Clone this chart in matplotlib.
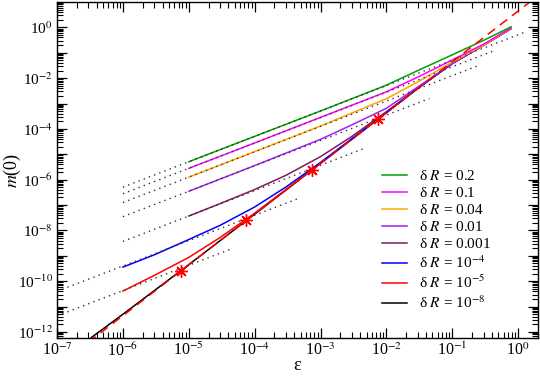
import numpy as np
import matplotlib
matplotlib.use('Agg')
import matplotlib.pyplot as plt
from matplotlib.ticker import NullFormatter, LogLocator

plt.rcParams['font.family'] = ['Liberation Serif', 'DejaVu Serif']
plt.rcParams['mathtext.fontset'] = 'stix'

#======= data =======
labels = ['δ $R$ = 0.2', 'δ $R$ = 0.1', 'δ $R$ = 0.04', 'δ $R$ = 0.01',
          'δ $R$ = 0.001', 'δ $R$ = 10$^{-4}$', 'δ $R$ = 10$^{-5}$', 'δ $R$ = 10$^{-8}$']
colors = ['#00a000', '#ff00ff', '#ffa500', '#a020f0', '#7f1a5a', '#0000ff', '#ff0000', '#000000']

eps_green = [1e-5, 1e-4, 1e-3, 1e-2, 3e-2, 1e-1, 3e-1, 0.78]
m_green = [5.1e-6, 5.1e-5, 5.1e-4, 5.3e-3, 2.0e-2, 8.3e-2, 0.31, 1.05]

eps_magenta = [1e-5, 1e-4, 1e-3, 1e-2, 3e-2, 1e-1, 3e-1, 0.78]
m_magenta = [2.8e-6, 2.8e-5, 2.85e-4, 2.9e-3, 1.1e-2, 5.2e-2, 0.22, 0.95]

eps_orange = [1e-5, 1e-4, 1e-3, 1e-2, 3e-2, 1e-1, 3e-1, 0.78]
m_orange = [1.26e-6, 1.27e-5, 1.3e-4, 1.55e-3, 7.1e-3, 4.3e-2, 0.2, 0.92]

eps_purple = [1e-5, 1e-4, 1e-3, 3e-3, 1e-2, 3e-2, 1e-1, 3e-1, 0.78]
m_purple = [3.5e-7, 3.6e-6, 3.9e-5, 1.45e-4, 6.5e-4, 4.5e-3, 3.8e-2, 0.2, 0.9]

eps_maroon = [1e-5, 3e-5, 1e-4, 3e-4, 1e-3, 3e-3, 1e-2, 3e-2, 1e-1, 3e-1, 0.78]
m_maroon = [3.7e-8, 1.15e-7, 4.1e-7, 1.5e-6, 8.1e-6, 5.1e-5, 4.8e-4, 4.0e-3, 3.8e-2, 0.2, 0.9]

eps_blue = [1e-6, 3e-6, 1e-5, 3e-5, 1e-4, 3e-4, 1e-3, 1e-2, 3e-2, 1e-1, 3e-1, 0.78]
m_blue = [3.6e-10, 1.1e-9, 4.4e-9, 1.6e-8, 8.4e-8, 5.2e-7, 4.8e-6, 4.4e-4, 4.0e-3, 3.8e-2, 0.2, 0.9]

eps_red = [1e-6, 3e-6, 1e-5, 3e-5, 1e-4, 1e-3, 1e-2, 3e-2, 1e-1, 3e-1, 0.78]
m_red = [4.1e-11, 1.7e-10, 8.7e-10, 5.3e-9, 4.8e-8, 4.4e-6, 4.4e-4, 4.0e-3, 3.8e-2, 0.2, 0.9]

eps_black = [3.3e-7, 1e-6, 1e-5, 1e-4, 1e-3, 1e-2, 3e-2, 1e-1, 3e-1, 0.78]
m_black = [6e-13, 5e-12, 4.5e-10, 4.4e-8, 4.4e-6, 4.4e-4, 4.0e-3, 3.8e-2, 0.2, 0.9]

curves = [(eps_green, m_green), (eps_magenta, m_magenta), (eps_orange, m_orange),
          (eps_purple, m_purple), (eps_maroon, m_maroon), (eps_blue, m_blue),
          (eps_red, m_red), (eps_black, m_black)]

# dotted asymptotes (start, end)
dot_eps = [[1e-6, 1.23], [1e-6, 0.45], [1e-6, 0.25], [1e-6, 0.045],
           [1e-6, 5e-3], [1e-7, 4.8e-4], [1e-7, 4.7e-5]]
dot_m = [[5.1e-7, 0.63], [2.8e-7, 0.126], [1.26e-7, 3.15e-2], [3.5e-8, 1.58e-3],
         [3.7e-9, 1.85e-5], [4e-11, 1.9e-7], [4.3e-12, 2.0e-9]]

# red dashed eps^2 line and stars
dash_eps = [3e-7, 1.6]
dash_m = [3.96e-13, 11.3]
star_eps = [7.5e-6, 7.5e-5, 7.5e-4, 7.5e-3]
star_m = [2.5e-10, 2.5e-8, 2.5e-6, 2.5e-4]

#======= plot =======
fig = plt.figure(figsize=(5.4, 3.77), dpi=100)
ax = fig.add_axes([0.1056, 0.1034, 0.8907, 0.8913])

# draw curves from the bottom of the legend up so black lies under red
lines = {}
for (e, m), c, lab in reversed(list(zip(curves, colors, labels))):
    lines[lab], = ax.plot(e, m, color=c, linewidth=1.1)

ax.plot(dash_eps, dash_m, color='red', linestyle=(0, (6, 4)), linewidth=1.1)

for e, m in zip(dot_eps, dot_m):
    ax.plot(e, m, color='#333333', linestyle=(0, (1, 3)), linewidth=1.0)

ax.plot(star_eps, star_m, linestyle='none', marker=(8, 2, 0), markersize=9,
        markeredgecolor='red', markeredgewidth=1.0, color='red')

ax.set_xscale('log')
ax.set_yscale('log')
ax.set_xlim(1e-7, 2.0)
ax.set_ylim(5.8e-13, 10)

ax.set_xticks([1e-7, 1e-6, 1e-5, 1e-4, 1e-3, 1e-2, 1e-1, 1e0])
ax.set_xticklabels(['10$^{-7}$', '10$^{-6}$', '10$^{-5}$', '10$^{-4}$',
                    '10$^{-3}$', '10$^{-2}$', '10$^{-1}$', '10$^{0}$'])
ax.xaxis.set_minor_locator(LogLocator(base=10, subs=np.arange(2, 10), numticks=20))
ax.xaxis.set_minor_formatter(NullFormatter())

yt = [10.0 ** k for k in range(-12, 1)]
ylab = ['10$^{%d}$' % k if k % 2 == 0 else '' for k in range(-12, 1)]
ax.set_yticks(yt)
ax.set_yticklabels(ylab)
ax.yaxis.set_minor_locator(LogLocator(base=10, subs=np.arange(2, 10), numticks=30))
ax.yaxis.set_minor_formatter(NullFormatter())

ax.tick_params(which='both', direction='in', top=True, right=True, labelsize=11.5)
ax.tick_params(axis='y', labelsize=11)
ax.tick_params(which='major', length=7, width=0.9, pad=3)
ax.tick_params(which='minor', length=4, width=0.8)
for s in ax.spines.values():
    s.set_linewidth(1.0)

ax.set_xlabel('ε', fontsize=13, labelpad=-2)
ax.set_ylabel('$m$(0)', fontsize=13)
ax.yaxis.set_label_coords(-0.07, 0.5)

ax.legend([lines[l] for l in labels], labels, loc='upper left',
          bbox_to_anchor=(0.66, 0.525), frameon=False, fontsize=11,
          handlelength=1.6, handletextpad=0.8, labelspacing=0.2, borderpad=0)

fig.savefig('out.png', dpi=100)
